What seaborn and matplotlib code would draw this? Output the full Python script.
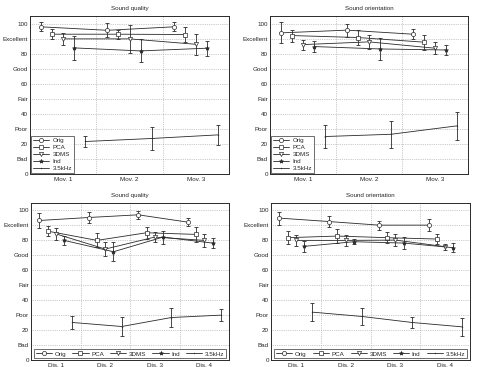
import seaborn as sns
import matplotlib.pyplot as plt
import pandas as pd
import numpy as np

series = ['Orig', 'PCA', '3DMS', 'Ind', '3.5kHz']
mov_labels = ['Mov. 1', 'Mov. 2', 'Mov. 3']
dis_labels = ['Dis. 1', 'Dis. 2', 'Dis. 3', 'Dis. 4']

# moyenne et demi-intervalle, une liste par méthode
mov_quality = {
    'Orig': [97.8, 95.5, 97.8],
    'PCA': [92.9, 92.9, 92.7],
    '3DMS': [89.8, 89.8, 86.2],
    'Ind': [83.8, 81.8, 83.6],
    '3.5kHz': [21.6, 23.6, 26.0],
}
mov_quality_err = {
    'Orig': [3.0, 4.7, 3.0],
    'PCA': [3.5, 3.0, 5.0],
    '3DMS': [4.0, 9.5, 7.0],
    'Ind': [8.0, 7.7, 5.0],
    '3.5kHz': [3.8, 7.5, 6.7],
}
mov_orient = {
    'Orig': [93.8, 95.6, 92.9],
    'PCA': [92.0, 90.7, 87.6],
    '3DMS': [86.0, 87.8, 83.6],
    'Ind': [84.7, 83.1, 82.4],
    '3.5kHz': [24.9, 26.4, 32.0],
}
mov_orient_err = {
    'Orig': [7.0, 4.3, 3.5],
    'PCA': [4.0, 4.7, 5.0],
    '3DMS': [3.3, 4.7, 3.8],
    'Ind': [3.7, 7.2, 3.5],
    '3.5kHz': [7.8, 9.0, 9.5],
}
dis_quality = {
    'Orig': [93.3, 95.3, 97.1, 92.2],
    'PCA': [86.2, 80.0, 85.1, 84.0],
    '3DMS': [84.4, 74.2, 82.2, 80.0],
    'Ind': [80.0, 72.4, 82.2, 78.2],
    '3.5kHz': [25.1, 22.4, 28.4, 30.0],
}
dis_quality_err = {
    'Orig': [4.8, 3.6, 2.6, 2.9],
    'PCA': [3.2, 4.7, 3.9, 4.9],
    '3DMS': [4.0, 4.4, 3.2, 4.4],
    'Ind': [3.0, 6.2, 4.4, 3.4],
    '3.5kHz': [4.6, 6.2, 6.2, 3.8],
}
dis_orient = {
    'Orig': [94.9, 92.6, 90.2, 90.2],
    'PCA': [81.8, 82.9, 81.8, 80.9],
    '3DMS': [80.0, 80.0, 80.2, 75.8],
    'Ind': [76.0, 79.1, 78.2, 75.1],
    '3.5kHz': [32.0, 29.1, 25.1, 22.2],
}
dis_orient_err = {
    'Orig': [4.4, 3.6, 3.0, 4.0],
    'PCA': [4.2, 4.7, 3.6, 3.6],
    '3DMS': [3.8, 3.8, 4.0, 2.0],
    'Ind': [3.5, 1.6, 4.1, 3.0],
    '3.5kHz': [6.1, 5.9, 3.7, 6.1],
}

yticks = [0, 10, 20, 30, 40, 50, 60, 70, 80, 90, 100]
yticklabels = ['0', 'Bad', '20', 'Poor', '40', 'Fair', '60', 'Good', '80', 'Excellent', '100']

markers = {'Orig': 'o', 'PCA': 's', '3DMS': 'v', 'Ind': '*', '3.5kHz': '.'}
msize = {'Orig': 3, 'PCA': 2.6, '3DMS': 3, 'Ind': 3, '3.5kHz': 1}
offsets = dict(zip(series, [-1/3, -1/6, 0, 1/6, 1/3]))

sns.set_style('white')
plt.rcParams['font.family'] = ['Liberation Sans', 'DejaVu Sans']
plt.rcParams['font.size'] = 4.5

fig = plt.figure(figsize=(4.79, 3.67), dpi=100)
W, H = 479, 367
boxes = [(30, 16, 229, 174), (270, 16, 468, 174), (31, 203, 229, 360), (271, 203, 470, 360)]
panels = [
    ('Sound quality', mov_labels, mov_quality, mov_quality_err, 'v'),
    ('Sound orientation', mov_labels, mov_orient, mov_orient_err, 'v'),
    ('Sound quality', dis_labels, dis_quality, dis_quality_err, 'h'),
    ('Sound orientation', dis_labels, dis_orient, dis_orient_err, 'h'),
]

col = '#2a2a2a'
for (x0, y0, x1, y1), (title, cats, vals, errs, leg) in zip(boxes, panels):
    ax = fig.add_axes([x0 / W, 1 - y1 / H, (x1 - x0) / W, (y1 - y0) / H])
    rows = []
    for s in series:
        for i, c in enumerate(cats):
            rows.append({'series': s, 'pos': i + 1 + offsets[s], 'val': vals[s][i], 'err': errs[s][i]})
    df = pd.DataFrame(rows)
    for s in series:
        d = df[df.series == s]
        ax.errorbar(d.pos, d.val, yerr=d.err, fmt='none', ecolor=col, elinewidth=0.6,
                    capsize=1.6, capthick=0.6, zorder=2)
        sns.lineplot(data=d, x='pos', y='val', ax=ax, color=col, linewidth=0.6,
                     marker=markers[s], markersize=msize[s], markerfacecolor='white' if s not in ('Ind', '3.5kHz') else col,
                     markeredgecolor=col, markeredgewidth=0.5, label=s, zorder=3)
    n = len(cats)
    ax.set_xlim(0.5, n + 0.5)
    ax.set_ylim(0, 105)
    ax.set_xticks(range(1, n + 1))
    ax.set_xticklabels(cats)
    ax.set_xticks(np.arange(1.5, n, 1), minor=True)
    ax.set_yticks(yticks)
    ax.set_yticklabels(yticklabels)
    ax.set_xlabel('')
    ax.set_ylabel('')
    ax.set_title(title, fontsize=4.5, pad=4)
    ax.grid(True, which='minor', axis='x', linestyle=':', linewidth=0.5, color='#999999')
    ax.grid(True, which='major', axis='y', linestyle=':', linewidth=0.5, color='#999999')
    ax.tick_params(axis='x', which='major', length=0, pad=2, labelsize=4.5)
    ax.tick_params(axis='x', which='minor', length=2, direction='in', color=col)
    ax.tick_params(axis='y', length=2, direction='in', pad=1.5, labelsize=4.5, color=col)
    for sp in ax.spines.values():
        sp.set_color(col)
        sp.set_linewidth(0.7)
    if leg == 'v':
        ax.legend(loc='lower left', fontsize=4.5, frameon=True, fancybox=False, edgecolor=col,
                  borderpad=0.3, labelspacing=0.25, handlelength=2.6, handletextpad=0.5,
                  borderaxespad=0.2).get_frame().set_linewidth(0.6)
    else:
        ax.legend(loc='lower center', ncol=5, fontsize=4.5, frameon=True, fancybox=False, edgecolor=col,
                  borderpad=0.3, columnspacing=1.0, handlelength=2.6, handletextpad=0.4,
                  borderaxespad=0.25).get_frame().set_linewidth(0.6)

fig.savefig('out.png', dpi=100)
